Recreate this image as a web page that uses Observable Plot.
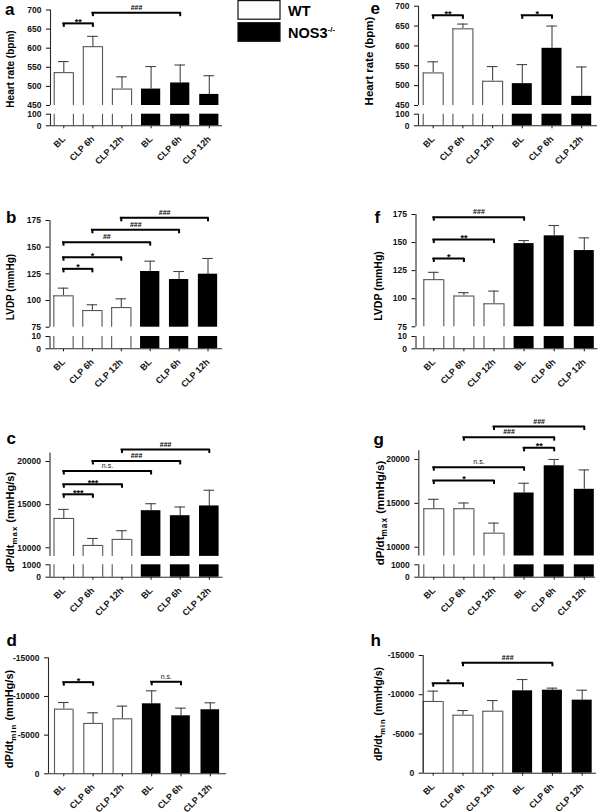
<!DOCTYPE html>
<html><head><meta charset="utf-8">
<script src="https://cdn.jsdelivr.net/npm/d3@7"></script>
<script src="https://cdn.jsdelivr.net/npm/@observablehq/plot@0.6"></script>
<style>
html,body{margin:0;padding:0;background:#fff}
#chart{position:relative;width:600px;height:812px;overflow:hidden;background:#fff}
#chart svg{position:absolute;left:0;top:0}
</style></head>
<body><div id="chart"></div>
<script>
// ---------- categories ----------
const conditions = ["BL", "CLP 6h", "CLP 12h", "BL", "CLP 6h", "CLP 12h"];
const genotypes = ["WT", "WT", "WT", "NOS3-/-", "NOS3-/-", "NOS3-/-"];

// ---------- series values (mean, error) ----------
const heartRateA = [536, 604, 493, 493, 509, 479];
const heartRateAErr = [29, 27, 32, 59, 47, 49];
const lvdpB = [104.4, 90.6, 93.4, 127.2, 119.7, 124.7];
const lvdpBErr = [7.2, 5.4, 8.2, 9.7, 7.5, 14.7];
const dpdtMaxC = [13400, 10270, 10970, 14300, 13720, 14850];
const dpdtMaxCErr = [1050, 810, 1010, 810, 1010, 1820];
const dpdtMinD = [-8360, -6510, -7110, -9050, -7500, -8280];
const dpdtMinDErr = [860, 1380, 1640, 1680, 990, 900];

const heartRateE = [532, 643, 511, 505, 594, 473];
const heartRateEErr = [28, 12, 37, 48, 56, 74];
const lvdpF = [117, 102.4, 95.5, 149.1, 156, 142.9];
const lvdpFErr = [6.5, 3, 11.3, 2.7, 9.2, 11.3];
const dpdtMaxG = [14390, 14390, 11600, 16180, 19280, 16600];
const dpdtMaxGErr = [1070, 650, 1150, 1110, 720, 2210];
const dpdtMinH = [-9140, -7390, -7900, -10500, -10580, -9310];
const dpdtMinHErr = [1320, 600, 1360, 1440, 260, 1270];

// ---------- tick labels ----------
const heartRateTicks = [0, 100, 450, 500, 550, 600, 650, 700];
const lvdpTicks = [0, 10, 75, 100, 125, 150, 175];
const dpdtMaxTicks = [0, 1000, 10000, 15000, 20000];
const dpdtMinTicks = [0, -5000, -10000, -15000];

// ---------- significance brackets (bar indices, label, level in data units) ----------
const sigA = [{from: 0, to: 1, label: "**", at: 665}, {from: 1, to: 4, label: "###", at: 693}];
const sigB = [{from: 0, to: 1, label: "*", at: 129.7}, {from: 0, to: 2, label: "*", at: 140.6}, {from: 0, to: 3, label: "##", at: 154.7}, {from: 1, to: 4, label: "###", at: 166.3}, {from: 2, to: 5, label: "###", at: 177.5}];
const sigC = [{from: 0, to: 1, label: "***", at: 16200}, {from: 0, to: 2, label: "***", at: 17360}, {from: 0, to: 3, label: "n.s.", at: 18900}, {from: 1, to: 4, label: "###", at: 20070}, {from: 2, to: 5, label: "###", at: 21400}];
const sigD = [{from: 0, to: 1, label: "*", at: -11850}, {from: 3, to: 4, label: "n.s.", at: -11900}];
const sigE = [{from: 0, to: 1, label: "**", at: 677}, {from: 3, to: 4, label: "*", at: 677}];
const sigF = [{from: 0, to: 1, label: "*", at: 135.8}, {from: 0, to: 2, label: "**", at: 152.7}, {from: 0, to: 3, label: "###", at: 172.6}];
const sigG = [{from: 0, to: 2, label: "*", at: 17600}, {from: 0, to: 3, label: "n.s.", at: 19120}, {from: 3, to: 4, label: "**", at: 21330}, {from: 1, to: 4, label: "###", at: 22540}, {from: 2, to: 5, label: "###", at: 23760}];
const sigH = [{from: 0, to: 1, label: "*", at: -11470}, {from: 1, to: 4, label: "###", at: -14070}];

// ---------- panel layout (scale configuration, page pixels) ----------
// segments: axis pieces (bottom piece first); yRange: pixel [bottom, top] of each piece
const panels = [
  {letter: "a", mean: heartRateA, err: heartRateAErr, sig: sigA, ticks: heartRateTicks,
   segments: [[0, 100], [450, 700]], yRange: [125.3, 113.7, 105, 9.5],
   axisX: 50, c0: 63.3, step: 29.1, right: 222, barW: 19.2,
   letterPos: [5, 14.5], title: {main: "Heart rate (bpm)", cx: 10, cy: 69, size: 10}},
  {letter: "b", mean: lvdpB, err: lvdpBErr, sig: sigB, ticks: lvdpTicks,
   segments: [[0, 10], [75, 175]], yRange: [348.3, 336, 326.7, 220],
   axisX: 49.5, c0: 63, step: 28.9, right: 222, barW: 19.3,
   letterPos: [6, 223], title: {main: "LVDP (mmHg)", cx: 10, cy: 287, size: 10}},
  {letter: "c", mean: dpdtMaxC, err: dpdtMaxCErr, sig: sigC, ticks: dpdtMaxTicks,
   segments: [[0, 1000], [9000, 21000]], yRange: [576.7, 564.3, 555.9, 452.4],
   axisX: 49.5, c0: 63.3, step: 29.1, right: 222.5, barW: 19.6,
   letterPos: [6.5, 444], title: {main: "dP/dt", sub: "max", rest: " (mmHg/s)", cx: 10, cy: 522, size: 11}},
  {letter: "d", mean: dpdtMinD, err: dpdtMinDErr, sig: sigD, ticks: dpdtMinTicks,
   segments: [[0, -15000]], yRange: [773.3, 657.3],
   axisX: 48, c0: 63.3, step: 29.3, right: 226, barW: 18.6,
   letterPos: [6.5, 646], title: {main: "dP/dt", sub: "min", rest: " (mmHg/s)", cx: 9, cy: 719, size: 11}},
  {letter: "e", mean: heartRateE, err: heartRateEErr, sig: sigE, ticks: heartRateTicks,
   segments: [[0, 100], [450, 700]], yRange: [125.3, 113.7, 105, 5.7],
   axisX: 418, c0: 432.7, step: 29.7, right: 597, barW: 20,
   letterPos: [370.5, 14], title: {main: "Heart rate (bpm)", cx: 369, cy: 61, size: 11.5}},
  {letter: "f", mean: lvdpF, err: lvdpFErr, sig: sigF, ticks: lvdpTicks,
   segments: [[0, 10], [75, 175]], yRange: [348.3, 336, 326.3, 214],
   axisX: 415.5, c0: 433.3, step: 30.1, right: 597.5, barW: 20,
   letterPos: [374.5, 223], title: {main: "LVDP (mmHg)", cx: 378, cy: 286, size: 10.5}},
  {letter: "g", mean: dpdtMaxG, err: dpdtMaxGErr, sig: sigG, ticks: dpdtMaxTicks,
   segments: [[0, 1000], [9000, 21000]], yRange: [576.7, 564.3, 555.5, 450.2],
   axisX: 418.3, c0: 433.3, step: 30.1, right: 595, barW: 20,
   letterPos: [373.5, 445], title: {main: "dP/dt", sub: "max", rest: " (mmHg/s)", cx: 380, cy: 513, size: 11.5}},
  {letter: "h", mean: dpdtMinH, err: dpdtMinHErr, sig: sigH, ticks: dpdtMinTicks,
   segments: [[0, -15000]], yRange: [772.7, 655],
   axisX: 422.7, c0: 432.7, step: 29.8, right: 596, barW: 20,
   letterPos: [370.5, 646], title: {main: "dP/dt", sub: "min", rest: " (mmHg/s)", cx: 378, cy: 714, size: 10.5}}
];

const FONT = "'Liberation Sans', Arial, Helvetica, sans-serif";
const AXIS = "#2a2a2a", OUTLINE = "#555", ERR = "#444";
const chart = document.getElementById("chart");

const inSeg = (v, [s0, s1]) => (v - s0) * (v - s1) <= 0;
const beyond = (v, [s0, s1]) => Math.sign(s1 - s0) * (v - s1) > 0;

function drawPanel(p) {
  const rows = p.mean.map((m, i) => ({i, geno: genotypes[i], mean: m, err: p.err[i], end: m + Math.sign(m) * p.err[i]}));
  const xDomain = [(p.axisX - p.c0) / p.step, (p.right - p.c0) / p.step];
  const hw = p.barW / 2 / p.step, cap = 5.3 / p.step;
  const mid = d => (d.from + d.to) / 2;
  const last = p.segments.length - 1;

  p.segments.forEach((seg, k) => {
    const bottomPx = p.yRange[2 * k], topPx = p.yRange[2 * k + 1];
    const isBottom = k === 0, isTop = k === last;
    const pieces = rows
      .filter(d => inSeg(d.mean, seg) || beyond(d.mean, seg))
      .map(d => ({...d, y1: seg[0], y2: inSeg(d.mean, seg) ? d.mean : seg[1], top: inSeg(d.mean, seg)}));
    const wt = pieces.filter(d => d.geno === "WT");
    const withErr = rows.filter(d => inSeg(d.mean, seg));
    const sig = isTop ? p.sig : [];
    const stars = sig.filter(s => s.label.includes("*"));
    const hashes = sig.filter(s => s.label.includes("#"));
    const ns = sig.filter(s => s.label === "n.s.");

    const svg = Plot.plot({
      width: 600, height: 812,
      marginLeft: p.axisX, marginRight: 600 - p.right, marginTop: topPx, marginBottom: 812 - bottomPx,
      style: {background: "transparent", fontFamily: FONT, fontSize: "8.5px", fontWeight: "bold", color: "#111", overflow: "visible"},
      x: isBottom
        ? {domain: xDomain, ticks: d3.range(conditions.length), tickFormat: i => conditions[i], tickRotate: -45, tickSize: 3, label: null}
        : {domain: xDomain, axis: null},
      y: {domain: seg, ticks: p.ticks.filter(t => inSeg(t, seg)), tickFormat: d => String(d), tickSize: 4, label: null},
      marks: [
        // error bars
        Plot.ruleX(withErr, {x: "i", y1: "mean", y2: "end", stroke: ERR, strokeWidth: 1.1}),
        Plot.ruleY(withErr, {y: "end", x1: d => d.i - cap, x2: d => d.i + cap, stroke: ERR, strokeWidth: 1.1}),
        // bars
        Plot.rect(pieces, {x1: d => d.i - hw, x2: d => d.i + hw, y1: "y1", y2: "y2", fill: d => d.geno === "WT" ? "white" : "black"}),
        // open (WT) bar outlines
        Plot.ruleX(wt, {x: d => d.i - hw, y1: "y1", y2: "y2", stroke: OUTLINE, strokeWidth: 1.1}),
        Plot.ruleX(wt, {x: d => d.i + hw, y1: "y1", y2: "y2", stroke: OUTLINE, strokeWidth: 1.1}),
        Plot.ruleY(wt.filter(d => d.top), {y: "y2", x1: d => d.i - hw, x2: d => d.i + hw, stroke: OUTLINE, strokeWidth: 1.1}),
        // axis line piece (spans this piece's frame)
        Plot.ruleX([xDomain[0]], {stroke: AXIS, strokeWidth: 1.1}),
        isBottom ? Plot.ruleY([0], {stroke: AXIS, strokeWidth: 1.1}) : null,
        // significance brackets
        Plot.ruleY(sig, {y: "at", x1: "from", x2: "to", stroke: "#000", strokeWidth: 2, insetLeft: -1, insetRight: -1}),
        Plot.ruleX(sig, {x: "from", y1: "at", y2: "at", insetBottom: -4, stroke: "#000", strokeWidth: 2}),
        Plot.ruleX(sig, {x: "to", y1: "at", y2: "at", insetBottom: -4, stroke: "#000", strokeWidth: 2}),
        Plot.text(stars, {x: mid, y: "at", text: "label", fontSize: 9, fontWeight: "bold", dy: -1.5, fill: "#000"}),
        Plot.text(hashes, {x: mid, y: "at", text: "label", fontSize: 7, fontWeight: "bold", dy: -5, fill: "#000"}),
        Plot.text(ns, {x: mid, y: "at", text: "label", fontSize: 7, fontWeight: "normal", dy: -5.5, fill: "#111"})
      ]
    });
    d3.select(svg).selectAll('[aria-label^="x-axis"] text').attr("font-size", 9);
    chart.appendChild(svg);
  });
}
panels.forEach(drawPanel);

// ---------- overlay: panel letters, y titles, legend ----------
const ov = d3.select(chart).append("svg")
  .attr("width", 600).attr("height", 812)
  .style("font-family", FONT).style("font-weight", "bold").style("overflow", "visible");

panels.forEach(p => {
  ov.append("text").attr("x", p.letterPos[0]).attr("y", p.letterPos[1])
    .attr("font-size", 17).attr("fill", "#000").text(p.letter);
  const t = p.title;
  const txt = ov.append("text")
    .attr("transform", `translate(${t.cx + 0.36 * t.size},${t.cy}) rotate(-90)`)
    .attr("text-anchor", "middle").attr("font-size", t.size).attr("fill", "#000");
  txt.append("tspan").text(t.main);
  if (t.sub) {
    txt.append("tspan").attr("dy", 3).attr("font-size", t.size * 0.72).attr("letter-spacing", 1).text(t.sub);
    txt.append("tspan").attr("dy", -3).text(t.rest);
  }
});

const legendItems = Array.from(new Set(genotypes));
legendItems.forEach((g, k) => {
  const y0 = k === 0 ? 0.6 : 22.7;
  ov.append("rect").attr("x", 238).attr("y", y0).attr("width", 42).attr("height", 18.6)
    .attr("fill", g === "WT" ? "white" : "black").attr("stroke", "#111").attr("stroke-width", 1.2);
  const parts = g.split("-/-");
  const tx = ov.append("text").attr("x", 288).attr("y", y0 + 15.5).attr("font-size", 14.5).attr("fill", "#000");
  tx.append("tspan").text(parts[0]);
  if (g.includes("-/-")) tx.append("tspan").attr("dy", -6).attr("font-size", 8).text("-/-");
});
</script>
</body></html>
